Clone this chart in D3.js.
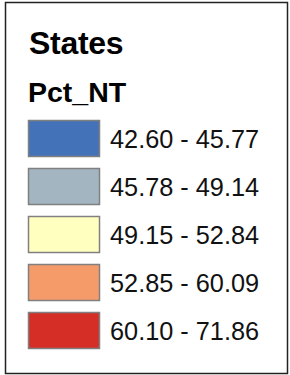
<!DOCTYPE html>
<html><head><meta charset="utf-8">
<script src="https://cdn.jsdelivr.net/npm/d3@7"></script>
<style>html,body{margin:0;padding:0;background:#fff;}</style>
</head><body>
<svg id="c" width="290" height="375"></svg>
<script>
const title = "States";
const field = "Pct_NT";
const classLabels = ["42.60 - 45.77","45.78 - 49.14","49.15 - 52.84","52.85 - 60.09","60.10 - 71.86"];
const classColors = ["#4472b8","#a3b5c0","#ffffc0","#f59b6a","#d42e27"];

const svg = d3.select("#c");
svg.append("rect").attr("x",5.5).attr("y",2.5).attr("width",282).attr("height",371)
  .attr("fill","#fff").attr("stroke","#222").attr("stroke-width",1.5);

svg.append("text").attr("x",29).attr("y",54).text(title)
  .attr("font-family","Liberation Sans, Arial, sans-serif").attr("font-weight","bold")
  .attr("font-size",32).attr("fill","#000").attr("letter-spacing",-0.3);
svg.append("text").attr("x",28).attr("y",102).text(field)
  .attr("font-family","Liberation Sans, Arial, sans-serif").attr("font-weight","bold")
  .attr("font-size",28.5).attr("fill","#000");

const y = d3.scaleBand().domain(d3.range(classLabels.length)).range([120,348]).paddingInner(0.25).paddingOuter(0);
const g = svg.selectAll("g.item").data(classLabels).join("g").attr("class","item");
g.append("rect").attr("x",28.5).attr("y",(d,i)=>y(i)+0.5).attr("width",71).attr("height",y.bandwidth())
  .attr("fill",(d,i)=>classColors[i]).attr("stroke","#808080").attr("stroke-width",1.5);
g.append("text").attr("x",110).attr("y",(d,i)=>y(i)+28).text(d=>d)
  .attr("font-family","Liberation Sans, Arial, sans-serif").attr("font-size",25.3).attr("fill","#111");
</script>
</body></html>
